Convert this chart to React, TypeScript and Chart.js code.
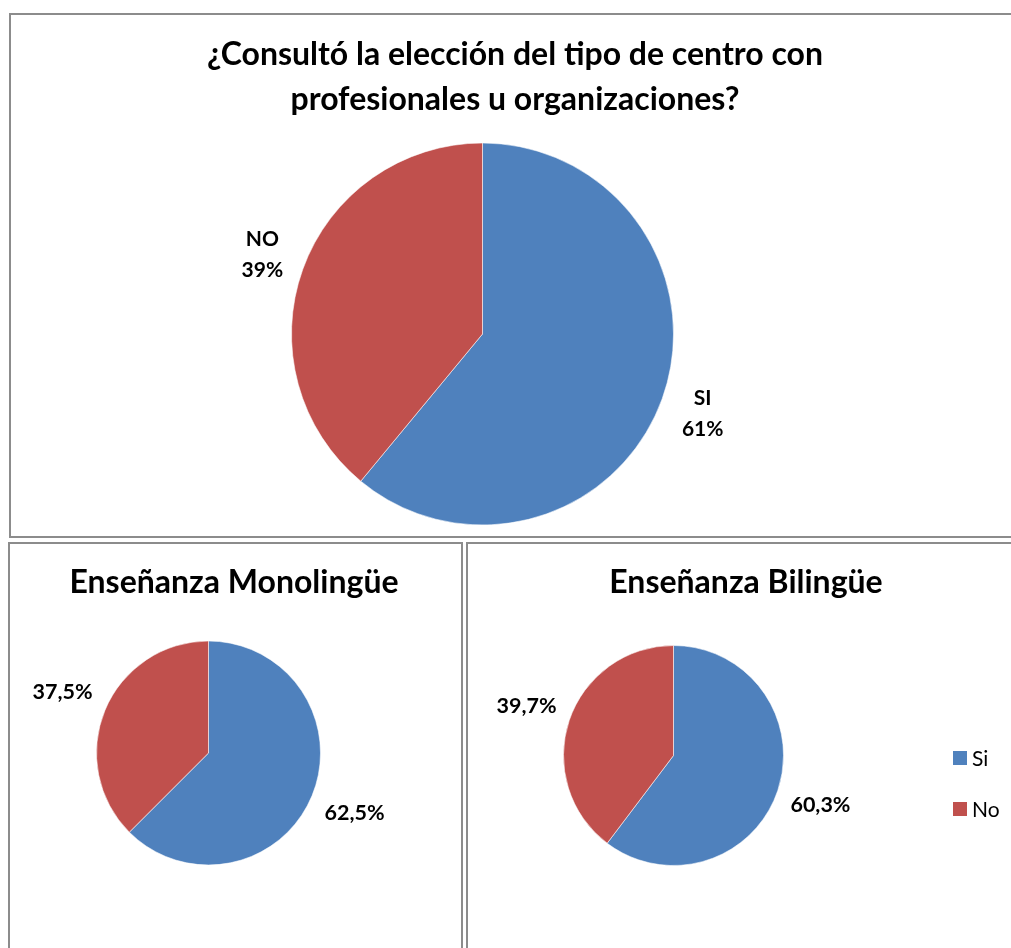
import React, { useEffect, useRef } from "react";
import { Chart, registerables } from "chart.js";

Chart.register(...registerables);

// ---- data ----
const mainCategories = ["SI", "NO"];
const mainValues = [61, 39];
const categories = ["Si", "No"];
const monoValues = [62.5, 37.5];
const bilValues = [60.3, 39.7];
const sliceColors = ["#4F81BD", "#C0504D"];
const mainTitle = ["¿Consultó la elección del tipo de centro con", "profesionales u organizaciones?"];
const monoTitle = ["Enseñanza Monolingüe"];
const bilTitle = ["Enseñanza Bilingüe"];

const FONT = "Lato, 'Open Sans', sans-serif";

const fmtPct0 = (v: number) => `${Math.round(v)}%`;
const fmtPct1 = (v: number) => `${Number(v).toFixed(1).replace(".", ",")}%`;

function makeOverlayPlugin(o: any) {
  return {
    id: "overlay",
    afterDraw(chart: any) {
      const ctx = chart.ctx;
      ctx.save();
      // title
      ctx.fillStyle = "#000";
      ctx.textAlign = "center";
      ctx.textBaseline = "middle";
      ctx.font = `bold ${o.titleSize}px ${FONT}`;
      o.title.forEach((line: string, i: number) => {
        ctx.fillText(line, o.titleX, o.titleY + i * o.titleGap);
      });
      // slice labels
      const meta = chart.getDatasetMeta(0);
      const data = chart.data.datasets[0].data as number[];
      const labels = chart.data.labels as string[];
      ctx.font = `bold ${o.labelSize}px ${FONT}`;
      meta.data.forEach((arc: any, i: number) => {
        const p = arc.getProps(["x", "y", "startAngle", "endAngle", "outerRadius"], true);
        const mid = (p.startAngle + p.endAngle) / 2;
        const d = p.outerRadius + o.labelOffset;
        const lx = p.x + Math.cos(mid) * d;
        const ly = p.y + Math.sin(mid) * d;
        const lines: string[] = o.showCategory
          ? [String(labels[i]), o.fmt(data[i])]
          : [o.fmt(data[i])];
        const lh = o.labelLineGap;
        const startY = ly - ((lines.length - 1) * lh) / 2;
        lines.forEach((t, k) => ctx.fillText(t, lx, startY + k * lh));
      });
      // legend
      if (o.legend) {
        const L = o.legend;
        ctx.textAlign = "left";
        ctx.font = `${L.size}px ${FONT}`;
        labels.forEach((lab, i) => {
          const y = L.y + i * L.gap;
          ctx.fillStyle = sliceColors[i];
          ctx.fillRect(L.x, y - L.box / 2, L.box, L.box);
          ctx.fillStyle = "#000";
          ctx.fillText(String(lab), L.x + L.box + L.textGap, y + 1);
        });
      }
      ctx.restore();
    },
  };
}

type PieProps = {
  labels: string[];
  values: number[];
  width: number;
  height: number;
  padding: { left: number; top: number; right: number; bottom: number };
  overlay: any;
};

function PieChart({ labels, values, width, height, padding, overlay }: PieProps) {
  const ref = useRef<HTMLCanvasElement | null>(null);
  useEffect(() => {
    if (!ref.current) return;
    const chart = new Chart(ref.current, {
      type: "pie",
      data: {
        labels,
        datasets: [
          {
            data: values,
            backgroundColor: sliceColors,
            borderColor: "rgba(255,255,255,0.55)",
            borderWidth: 1,
          },
        ],
      },
      options: {
        responsive: false,
        animation: false,
        events: [],
        layout: { padding },
        plugins: {
          legend: { display: false },
          tooltip: { enabled: false },
          title: { display: false },
        },
      },
      plugins: [makeOverlayPlugin(overlay)],
    });
    return () => chart.destroy();
  }, []);
  return (
    <canvas
      ref={ref}
      width={width}
      height={height}
      style={{ display: "block", width, height }}
    />
  );
}

const panelStyle = (left: number, top: number, width: number, height: number): React.CSSProperties => ({
  position: "absolute",
  left,
  top,
  width,
  height,
  boxSizing: "border-box",
  border: "2px solid #8c8c8c",
  background: "#fff",
});

export default function App() {
  return (
    <div
      style={{
        position: "absolute",
        left: 0,
        top: 0,
        width: 1011,
        height: 948,
        overflow: "hidden",
        background: "#fff",
      }}
    >
      <div style={panelStyle(9, 13, 1012, 525)}>
        <PieChart
          labels={mainCategories}
          values={mainValues}
          width={1008}
          height={521}
          padding={{ left: 280, top: 127.5, right: 345, bottom: 10.5 }}
          overlay={{
            title: mainTitle,
            titleX: 504,
            titleY: 40,
            titleGap: 45,
            titleSize: 32,
            labelSize: 21,
            labelLineGap: 31,
            labelOffset: 43,
            showCategory: true,
            fmt: fmtPct0,
          }}
        />
      </div>
      <div style={panelStyle(8, 542, 455, 420)}>
        <PieChart
          labels={categories}
          values={monoValues}
          width={451}
          height={416}
          padding={{ left: 86, top: 96, right: 140, bottom: 94 }}
          overlay={{
            title: monoTitle,
            titleX: 224,
            titleY: 39,
            titleGap: 40,
            titleSize: 32,
            labelSize: 21.5,
            labelLineGap: 24,
            labelOffset: 46,
            showCategory: false,
            fmt: fmtPct1,
          }}
        />
      </div>
      <div style={panelStyle(466, 542, 560, 420)}>
        <PieChart
          labels={categories}
          values={bilValues}
          width={556}
          height={416}
          padding={{ left: 95, top: 101, right: 240, bottom: 94 }}
          overlay={{
            title: bilTitle,
            titleX: 278,
            titleY: 39,
            titleGap: 40,
            titleSize: 32,
            labelSize: 21.5,
            labelLineGap: 24,
            labelOffset: 45,
            showCategory: false,
            fmt: fmtPct1,
            legend: { x: 485, y: 214, gap: 51, box: 14, textGap: 5, size: 21 },
          }}
        />
      </div>
    </div>
  );
}
